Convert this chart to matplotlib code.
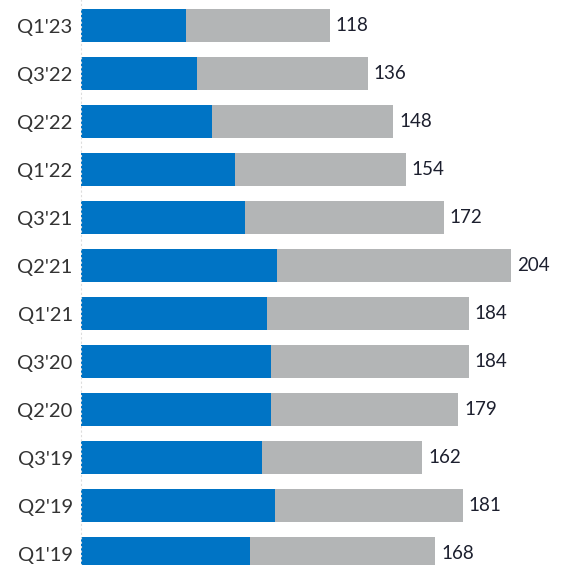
import matplotlib.pyplot as plt
import numpy as np

# quarters listed top to bottom
quarters = ["Q1'23", "Q3'22", "Q2'22", "Q1'22", "Q3'21", "Q2'21",
            "Q1'21", "Q3'20", "Q2'20", "Q3'19", "Q2'19", "Q1'19"]
blue_part = [50, 55, 62, 73, 78, 93, 88, 90, 90, 86, 92, 80]
totals = [118, 136, 148, 154, 172, 204, 184, 184, 179, 162, 181, 168]

blue = "#0074c5"
grey = "#b3b5b6"

plt.rcParams['font.family'] = ['Lato', 'DejaVu Sans']

fig = plt.figure(figsize=(5.62, 5.65), dpi=100)
W, H = 562, 565
left_px = 81
px_per_unit = 2.108
pitch = 48.0
first_center = 25.5

ax = fig.add_axes([left_px / W, 0, 1 - left_px / W, 1])

y = np.arange(len(quarters))
grey_part = [t - b for t, b in zip(totals, blue_part)]
bar_h = 33 / pitch

ax.barh(y, blue_part, height=bar_h, color=blue, linewidth=0)
ax.barh(y, grey_part, left=blue_part, height=bar_h, color=grey, linewidth=0)

# value labels at the end of each bar
for yi, t in zip(y, totals):
    ax.text(t + 6 / px_per_unit, yi, str(t), va='center', ha='left',
            fontsize=13.5, color="#1c1f2e")

ax.set_xlim(0, (W - left_px) / px_per_unit)
ax.set_ylim((H - first_center) / pitch, -first_center / pitch)

ax.set_yticks(y)
ax.set_yticklabels(quarters, fontsize=14.5, color="#333333")
ax.tick_params(axis='y', length=0, pad=6)
ax.set_xticks([])

for s in ['top', 'right', 'bottom']:
    ax.spines[s].set_visible(False)
ax.spines['left'].set_linestyle((0, (1, 3)))
ax.spines['left'].set_color("#dddddd")
ax.spines['left'].set_linewidth(0.8)

fig.savefig('out.png', dpi=100)
